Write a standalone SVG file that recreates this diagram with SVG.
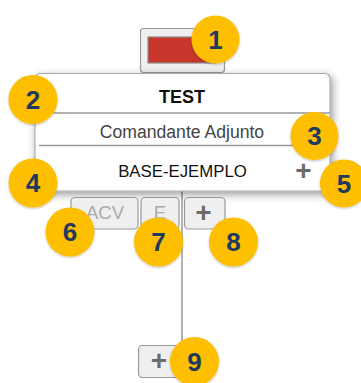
<svg xmlns="http://www.w3.org/2000/svg" width="361" height="383" viewBox="0 0 361 383">
<defs>
<filter id="cardShadow" x="-10%" y="-10%" width="125%" height="130%">
<feDropShadow dx="2" dy="3" stdDeviation="4" flood-color="#000" flood-opacity="0.4"/>
</filter>
<filter id="badgeShadow" x="-20%" y="-20%" width="140%" height="140%">
<feDropShadow dx="0" dy="1" stdDeviation="1.2" flood-color="#000" flood-opacity="0.25"/>
</filter>
</defs>
<style>
.btn{fill:#efefef;stroke:#999;stroke-width:1.2}
.line{stroke:#999;stroke-width:1.5;fill:none}
.badge circle{fill:#FDBF00;filter:url(#badgeShadow)}
.badge text{font-family:"Liberation Sans",Arial,sans-serif;font-weight:bold;font-size:26px;fill:#1F3A5F;text-anchor:middle}
.t{font-family:"Liberation Sans",Arial,sans-serif;text-anchor:middle}
.plus{font-family:"Liberation Sans",Arial,sans-serif;font-weight:bold;text-anchor:middle;fill:#6b6b6b}
</style>
<rect width="361" height="383" fill="#fff"/>
<g id="connectors">
<line class="line" x1="182" y1="191" x2="182" y2="346"/>
</g>
<g id="color-button">
<rect class="btn" x="140.5" y="28.5" width="84" height="44" rx="3"/>
<rect x="148" y="37" width="68" height="26" fill="#C9372C" stroke="#8a8a8a" stroke-width="1.2"/>
</g>
<g id="card">
<rect x="35" y="73.5" width="295" height="117.5" rx="5" fill="#fff" stroke="#aaa" stroke-width="1.2" filter="url(#cardShadow)"/>
<line class="line" x1="35" y1="113" x2="330" y2="113"/>
<line class="line" x1="39" y1="145.5" x2="318" y2="145.5"/>
<text class="t" x="182" y="103" font-size="18" font-weight="bold" fill="#111">TEST</text>
<text class="t" x="182" y="138" font-size="17.6" fill="#444">Comandante Adjunto</text>
<text class="t" x="182.5" y="177" font-size="16.8" fill="#111">BASE-EJEMPLO</text>
<text class="plus" x="303.5" y="180" font-size="28" fill="#777">+</text>
</g>
<g id="btn-acv">
<rect class="btn" x="71" y="197.5" width="67" height="31.5" rx="4"/>
<text class="t" x="105" y="218.5" font-size="18.5" fill="#aaa">ACV</text>
</g>
<g id="btn-e">
<rect class="btn" x="141" y="197.5" width="38" height="31.5" rx="4"/>
<text class="t" x="160" y="218.5" font-size="18.5" fill="#aaa">E</text>
</g>
<g id="btn-add">
<rect class="btn" x="184.5" y="197.5" width="40.5" height="31.5" rx="4"/>
<text class="plus" x="203.5" y="222" font-size="28">+</text>
</g>
<g id="btn-add-bottom">
<rect class="btn" x="138.5" y="345.5" width="42" height="32" rx="4"/>
<text class="plus" x="159" y="370" font-size="28">+</text>
</g>
<g id="badge-1" class="badge"><circle cx="215.5" cy="39.5" r="24"/><text x="215.5" y="48.5">1</text></g>
<g id="badge-2" class="badge"><circle cx="33" cy="99.5" r="24.5"/><text x="33" y="108.5">2</text></g>
<g id="badge-3" class="badge"><circle cx="314.5" cy="136" r="24"/><text x="314.5" y="145">3</text></g>
<g id="badge-4" class="badge"><circle cx="33" cy="183" r="24.5"/><text x="33" y="192">4</text></g>
<g id="badge-5" class="badge"><circle cx="344" cy="183.5" r="24"/><text x="344" y="192.5">5</text></g>
<g id="badge-6" class="badge"><circle cx="70" cy="232" r="24.5"/><text x="70" y="241">6</text></g>
<g id="badge-7" class="badge"><circle cx="158.5" cy="242" r="24.5"/><text x="158.5" y="251">7</text></g>
<g id="badge-8" class="badge"><circle cx="233.5" cy="242" r="24.5"/><text x="233.5" y="251">8</text></g>
<g id="badge-9" class="badge"><circle cx="194.5" cy="361.5" r="24.5"/><text x="194.5" y="370.5">9</text></g>
</svg>
